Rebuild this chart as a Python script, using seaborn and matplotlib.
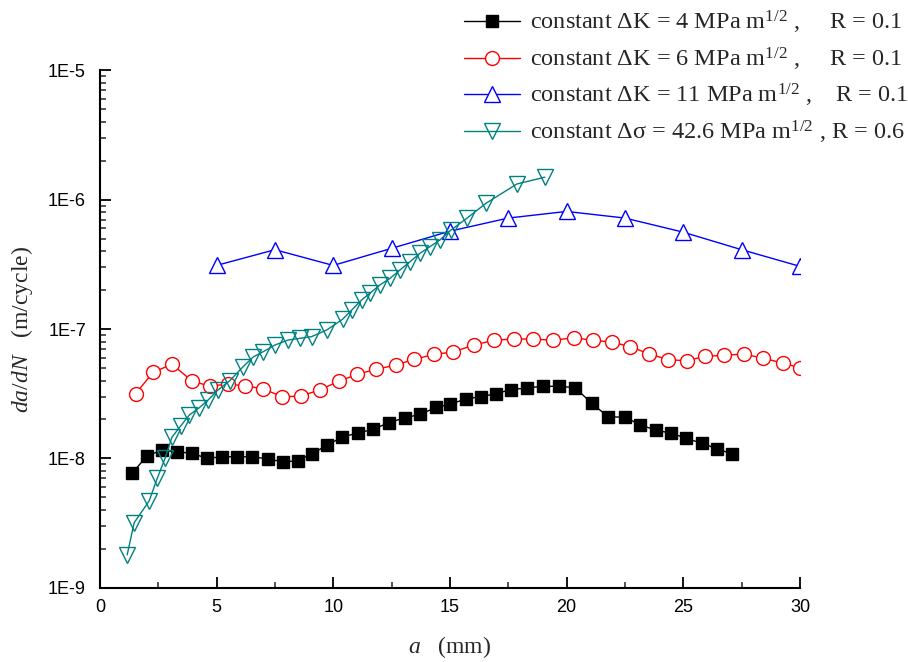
import numpy as np
import pandas as pd
import matplotlib
matplotlib.use("Agg")
import matplotlib.pyplot as plt
import seaborn as sns
from matplotlib.ticker import FuncFormatter, LogLocator, MultipleLocator, NullFormatter

# constant dK = 4 MPa m^1/2, R = 0.1
a_k4 = [1.38, 2.03, 2.67, 3.31, 3.96, 4.57, 5.23, 5.88, 6.53, 7.21, 7.86, 8.49, 9.10,
        9.73, 10.36, 11.04, 11.70, 12.39, 13.06, 13.73, 14.40, 15.01, 15.67, 16.32,
        16.97, 17.60, 18.29, 18.97, 19.66, 20.37, 21.07, 21.78, 22.50, 23.16, 23.82,
        24.48, 25.13, 25.79, 26.44, 27.10]
r_k4 = [7.7e-9, 1.05e-8, 1.16e-8, 1.12e-8, 1.10e-8, 1.00e-8, 1.03e-8, 1.03e-8, 1.03e-8,
        9.9e-9, 9.4e-9, 9.6e-9, 1.09e-8, 1.26e-8, 1.46e-8, 1.57e-8, 1.68e-8, 1.89e-8,
        2.06e-8, 2.19e-8, 2.48e-8, 2.62e-8, 2.88e-8, 3.00e-8, 3.16e-8, 3.40e-8, 3.50e-8,
        3.61e-8, 3.61e-8, 3.52e-8, 2.67e-8, 2.10e-8, 2.08e-8, 1.82e-8, 1.65e-8, 1.57e-8,
        1.43e-8, 1.31e-8, 1.19e-8, 1.08e-8]

# constant dK = 6 MPa m^1/2, R = 0.1
a_k6 = [1.53, 2.28, 3.09, 3.93, 4.70, 5.47, 6.24, 7.00, 7.81, 8.64, 9.44, 10.23, 11.03,
        11.84, 12.69, 13.47, 14.30, 15.12, 16.02, 16.89, 17.74, 18.57, 19.43, 20.30,
        21.12, 21.93, 22.73, 23.52, 24.36, 25.14, 25.94, 26.73, 27.59, 28.43, 29.27, 30.0]
r_k6 = [3.16e-8, 4.63e-8, 5.34e-8, 3.99e-8, 3.61e-8, 3.76e-8, 3.63e-8, 3.46e-8, 2.99e-8,
        3.04e-8, 3.40e-8, 3.94e-8, 4.47e-8, 4.89e-8, 5.27e-8, 5.83e-8, 6.36e-8, 6.64e-8,
        7.50e-8, 8.20e-8, 8.37e-8, 8.37e-8, 8.18e-8, 8.57e-8, 8.18e-8, 7.94e-8, 7.30e-8,
        6.44e-8, 5.79e-8, 5.69e-8, 6.15e-8, 6.26e-8, 6.41e-8, 5.94e-8, 5.46e-8, 5.00e-8]

# constant dK = 11 MPa m^1/2, R = 0.1
a_k11 = [5, 7.5, 10, 12.5, 15, 17.5, 20, 22.5, 25, 27.5, 30]
r_k11 = [3.1e-7, 4.1e-7, 3.1e-7, 4.2e-7, 5.7e-7, 7.2e-7, 8.1e-7, 7.2e-7, 5.6e-7, 4.1e-7, 3.05e-7]

# constant dsigma = 42.6, R = 0.6
a_s = [1.17, 1.47, 2.11, 2.46, 2.79, 3.09, 3.47, 3.84, 4.24, 4.64, 5.06, 5.57, 6.14,
       6.57, 7.00, 7.50, 8.07, 8.57, 9.07, 9.72, 10.40, 10.79, 11.22, 11.57, 12.00,
       12.43, 12.86, 13.29, 13.71, 14.14, 14.57, 15.04, 15.72, 16.54, 17.87, 19.07]
r_s = [1.80e-9, 3.19e-9, 4.69e-9, 7.03e-9, 1.00e-8, 1.46e-8, 1.79e-8, 2.17e-8, 2.45e-8,
       2.83e-8, 3.38e-8, 3.99e-8, 5.12e-8, 6.08e-8, 6.68e-8, 7.52e-8, 8.22e-8, 8.47e-8,
       8.73e-8, 9.82e-8, 1.19e-7, 1.40e-7, 1.68e-7, 1.89e-7, 2.19e-7, 2.46e-7, 2.86e-7,
       3.31e-7, 3.84e-7, 4.32e-7, 4.87e-7, 5.81e-7, 7.16e-7, 9.35e-7, 1.32e-6, 1.49e-6]

labels = [
    r"constant $\Delta$K = 4 MPa m$^{1/2}$ ,     R = 0.1",
    r"constant $\Delta$K = 6 MPa m$^{1/2}$ ,     R = 0.1",
    r"constant $\Delta$K = 11 MPa m$^{1/2}$ ,    R = 0.1",
    r"constant $\Delta\sigma$ = 42.6 MPa m$^{1/2}$ , R = 0.6",
]

sns.set_style("ticks")
plt.rcParams["mathtext.fontset"] = "custom"
plt.rcParams["mathtext.rm"] = "Liberation Serif"
plt.rcParams["mathtext.it"] = "Liberation Serif:italic"
plt.rcParams["mathtext.default"] = "rm"

fig = plt.figure(figsize=(9.08, 6.62), dpi=100)
ax = fig.add_axes([0.110, 0.112, 0.771, 0.782])

series = [
    (a_k4, r_k4, dict(color="black", marker="s", mfc="black", mec="black", ms=9)),
    (a_k6, r_k6, dict(color="red", marker="o", mfc="white", mec="red", ms=10)),
    (a_k11, r_k11, dict(color="blue", marker="^", mfc="white", mec="blue", ms=11)),
    (a_s, r_s, dict(color="#008080", marker="v", mfc="none", mec="#008080", ms=11)),
]

for (a, r, style), lab in zip(series, labels):
    df = pd.DataFrame({"a": a, "rate": r})
    sns.lineplot(data=df, x="a", y="rate", ax=ax, label=lab, lw=1.0,
                 mew=1.0, estimator=None, sort=False, **style)

ax.set_yscale("log")
ax.set_xlim(0, 30)
ax.set_ylim(1e-9, 1e-5)
ax.xaxis.set_major_locator(MultipleLocator(5))
ax.xaxis.set_minor_locator(MultipleLocator(2.5))
ax.yaxis.set_major_locator(LogLocator(base=10, numticks=10))
ax.yaxis.set_minor_locator(LogLocator(base=10, subs=np.arange(2, 10), numticks=10))
ax.yaxis.set_minor_formatter(NullFormatter())
ax.yaxis.set_major_formatter(FuncFormatter(lambda v, p: "1E%d" % round(np.log10(v))))

for s in ["top", "right"]:
    ax.spines[s].set_visible(False)
for s in ["left", "bottom"]:
    ax.spines[s].set_linewidth(1.5)
    ax.spines[s].set_color("black")

ax.tick_params(which="major", direction="in", length=8, width=1.3, labelsize=13,
               colors="black")
ax.tick_params(axis="y", which="major", pad=10)
ax.tick_params(axis="x", which="major", pad=8)
ax.tick_params(which="minor", direction="in", length=4, width=1.1)
for t in ax.get_xticklabels() + ax.get_yticklabels():
    t.set_family("Liberation Sans")

ax.set_xlabel(r"$\it{a}$   (mm)", fontsize=17, family="Liberation Serif", labelpad=13)
ax.set_ylabel(r"$\it{da/dN}$   (m/cycle)", fontsize=17, family="Liberation Serif", labelpad=9)

handles, labs = ax.get_legend_handles_labels()
ax.get_legend().remove()
fig.legend(handles, labs, loc="upper right", bbox_to_anchor=(1.016, 1.008), frameon=False,
           prop={"family": "Liberation Serif", "size": 17.5}, handlelength=2.3,
           handletextpad=0.4, labelspacing=0.38, borderaxespad=0.2)

plt.savefig("out.png", dpi=100)
plt.close()
